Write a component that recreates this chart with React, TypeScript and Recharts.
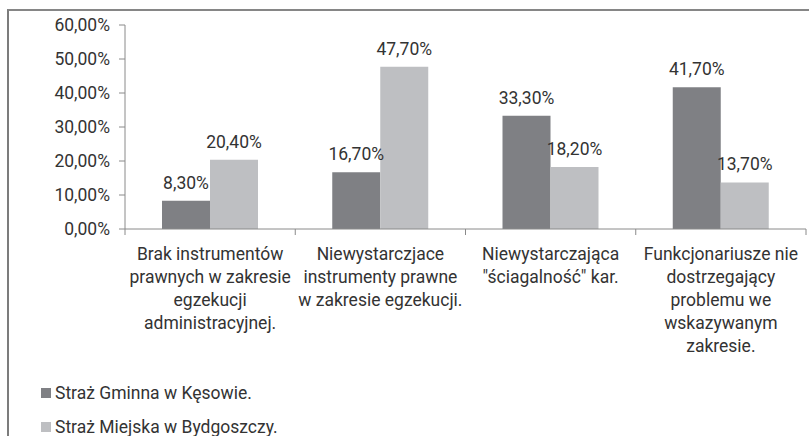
import React from 'react';
import { BarChart, Bar, XAxis, YAxis, LabelList } from 'recharts';

// ─── Data ─────────────────────────────────────────────────────────────────────

const CATEGORY_LINES: string[][] = [
  ['Brak instrumentów', 'prawnych w zakresie', 'egzekucji', 'administracyjnej.'],
  ['Niewystarczjace', 'instrumenty prawne', 'w zakresie egzekucji.'],
  ['Niewystarczająca', '"ściagalność" kar.'],
  ['Funkcjonariusze nie', 'dostrzegający', 'problemu we', 'wskazywanym', 'zakresie.'],
];

const GMINA_VALUES = [8.3, 16.7, 33.3, 41.7];
const MIEJSKA_VALUES = [20.4, 47.7, 18.2, 13.7];

const Y_TICKS = [0, 10, 20, 30, 40, 50, 60];

const SERIES_NAMES = ['Straż Gminna w Kęsowie.', 'Straż Miejska w Bydgoszczy.'];

// ─── Style ────────────────────────────────────────────────────────────────────

const WIDTH = 809;
const HEIGHT = 436;
const PLOT_LEFT = 125;
const PLOT_RIGHT = 806;
const PLOT_TOP = 25;
const PLOT_BOTTOM = 229;
const HALF_BAND = (PLOT_RIGHT - PLOT_LEFT) / CATEGORY_LINES.length / 2;

const FONT = 'Roboto, "Open Sans", sans-serif';
const FONT_SIZE = 17.5;
const TEXT = '#333333';
const AXIS = '#8a8a8a';
const DARK = '#7f8084';
const LIGHT = '#bebfc2';
const SERIES_COLORS = [DARK, LIGHT];

function pct(v: number): string {
  return `${v.toFixed(2).replace('.', ',')}%`;
}

const data = CATEGORY_LINES.map((lines, i) => ({
  name: lines.join(' '),
  gmina: GMINA_VALUES[i],
  miejska: MIEJSKA_VALUES[i],
}));

// ─── Ticks & labels ───────────────────────────────────────────────────────────

function CategoryTick(props: any): React.ReactElement {
  const { x, y, index } = props;
  const lines = CATEGORY_LINES[index] ?? [];
  return (
    <g>
      {index === 0 && (
        <line x1={x - HALF_BAND} y1={y} x2={x - HALF_BAND} y2={y + 6} stroke={AXIS} />
      )}
      <line x1={x + HALF_BAND} y1={y} x2={x + HALF_BAND} y2={y + 6} stroke={AXIS} />
      <text
        x={x}
        y={y + 31}
        textAnchor="middle"
        fontFamily={FONT}
        fontSize={FONT_SIZE}
        fill={TEXT}
      >
        {lines.map((line, i) => (
          <tspan key={i} x={x} dy={i === 0 ? 0 : 23}>
            {line}
          </tspan>
        ))}
      </text>
    </g>
  );
}

function ValueLabel(props: any): React.ReactElement | null {
  const { x, y, width, value } = props;
  if (value == null) return null;
  return (
    <text
      x={Number(x) + Number(width) / 2}
      y={Number(y) - 12}
      textAnchor="middle"
      fontFamily={FONT}
      fontSize={FONT_SIZE}
      fill={TEXT}
    >
      {pct(Number(value))}
    </text>
  );
}

// ─── Component ────────────────────────────────────────────────────────────────

export default function App(): React.ReactElement {
  return (
    <div
      style={{
        position: 'fixed',
        left: 0,
        top: 0,
        width: WIDTH,
        height: HEIGHT,
        background: '#fff',
        fontFamily: FONT,
        overflow: 'hidden',
      }}
    >
      {/* frame */}
      <div
        style={{
          position: 'absolute',
          left: 7,
          top: 9,
          width: WIDTH - 7,
          height: HEIGHT - 9,
          borderTop: '2px solid #868686',
          borderLeft: '2px solid #7c7c7c',
          boxSizing: 'border-box',
        }}
      />
      <div style={{ position: 'absolute', left: 0, top: 0 }}>
        <BarChart
          width={WIDTH}
          height={HEIGHT}
          data={data}
          margin={{ top: PLOT_TOP, right: WIDTH - PLOT_RIGHT, bottom: 0, left: 0 }}
          barCategoryGap={37}
          barGap={0}
        >
          <XAxis
            dataKey="name"
            height={HEIGHT - PLOT_BOTTOM}
            interval={0}
            tickLine={false}
            tickSize={0}
            tickMargin={0}
            axisLine={{ stroke: AXIS }}
            tick={<CategoryTick />}
          />
          <YAxis
            width={PLOT_LEFT}
            domain={[0, 60]}
            ticks={Y_TICKS}
            interval={0}
            tickFormatter={pct}
            tickSize={6}
            tickMargin={9}
            axisLine={{ stroke: AXIS }}
            tickLine={{ stroke: AXIS }}
            tick={{ fontFamily: FONT, fontSize: FONT_SIZE, fill: TEXT }}
          />
          <Bar dataKey="gmina" name={SERIES_NAMES[0]} fill={DARK} isAnimationActive={false}>
            <LabelList dataKey="gmina" content={<ValueLabel />} />
          </Bar>
          <Bar dataKey="miejska" name={SERIES_NAMES[1]} fill={LIGHT} isAnimationActive={false}>
            <LabelList dataKey="miejska" content={<ValueLabel />} />
          </Bar>
        </BarChart>
      </div>
      {/* legend */}
      {SERIES_NAMES.map((name, i) => (
        <div key={name} style={{ position: 'absolute', left: 41, top: 383 + i * 34 }}>
          <div
            style={{
              position: 'absolute',
              left: 0,
              top: 5,
              width: 10,
              height: 10,
              background: SERIES_COLORS[i],
            }}
          />
          <div
            style={{
              position: 'absolute',
              left: 14,
              top: 0,
              whiteSpace: 'nowrap',
              fontSize: FONT_SIZE,
              lineHeight: '20px',
              color: TEXT,
            }}
          >
            {name}
          </div>
        </div>
      ))}
    </div>
  );
}
